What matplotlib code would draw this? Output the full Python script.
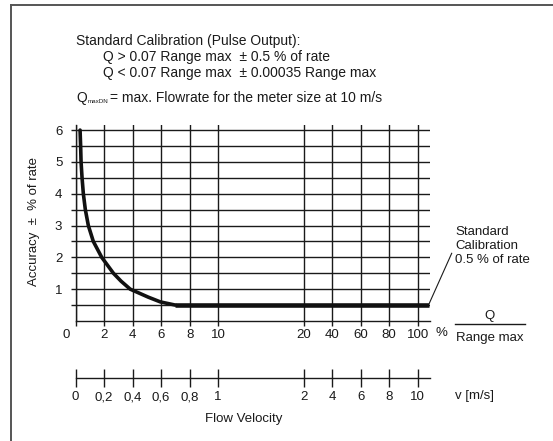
import numpy as np
import matplotlib
matplotlib.use("Agg")
import matplotlib.pyplot as plt
from matplotlib.lines import Line2D
from matplotlib.transforms import ScaledTranslation

plt.rcParams['font.family'] = ['Liberation Sans', 'DejaVu Sans']

# Flow in % of Range max (top axis) and the matching velocity (bottom axis)
q_ticks = [0, 2, 4, 6, 8, 10, 20, 40, 60, 80, 100]
q_labels = ['0', '2', '4', '6', '8', '10', '20', '40', '60', '80', '100']
v_ticks = [0, 0.2, 0.4, 0.6, 0.8, 1, 2, 4, 6, 8, 10]
v_labels = ['0', '0,2', '0,4', '0,6', '0,8', '1', '2', '4', '6', '8', '10']
acc_ticks = [1, 2, 3, 4, 5, 6]
acc_minor = [0.5, 1.5, 2.5, 3.5, 4.5, 5.5]

# accuracy curve (% of Range max, +/- % of rate)
curve_q = [0.32, 0.36, 0.39, 0.46, 0.55, 0.69, 0.9, 1.25, 1.84, 2.66, 3.2, 3.84, 5.1, 5.95, 7.0]
curve_acc = [6.0, 5.5, 5.0, 4.5, 4.0, 3.5, 3.0, 2.5, 2.0, 1.5, 1.25, 1.0, 0.75, 0.6, 0.5]
flat_q = [7.0, 108.0]
flat_acc = [0.5, 0.5]

Q_MAX_AXIS = 108.6
ACC_MAX_AXIS = 6.16


# broken axis: 0..10 in steps of 2, a gap, then 20..100 in steps of 20
def fwd(x):
    x = np.asarray(x, dtype=float)
    return np.where(x <= 10, x / 2, np.where(x <= 20, 5 + (x - 10) * 0.3, 8 + (x - 20) / 20))


def inv(p):
    p = np.asarray(p, dtype=float)
    return np.where(p <= 5, p * 2, np.where(p <= 8, 10 + (p - 5) / 0.3, 20 + (p - 8) * 20))


def fwd_v(v):
    return fwd(np.asarray(v, dtype=float) * 10)


def inv_v(p):
    return inv(p) / 10


W, H = 553, 441


def fx(px):
    return px / W


def fy(py):
    return 1 - py / H


fig = plt.figure(figsize=(W / 100, H / 100), dpi=100)
ink = '#1a1a1a'

left, right, top, bottom = 75.5, 430, 125, 321
ax = fig.add_axes([fx(left), fy(bottom), fx(right - left), (bottom - top) / H])
ax.set_xscale('function', functions=(fwd, inv))
ax.set_xlim(0, Q_MAX_AXIS)
ax.set_ylim(0, ACC_MAX_AXIS)
for s in ['top', 'right']:
    ax.spines[s].set_visible(False)
for s in ['left', 'bottom']:
    ax.spines[s].set_color(ink)
    ax.spines[s].set_linewidth(1.0)

ax.set_xticks(q_ticks)
ax.set_xticklabels(q_labels)
ax.set_xticks([], minor=True)
ax.set_yticks(acc_ticks)
ax.set_yticks(acc_minor, minor=True)
ax.tick_params(axis='both', which='both', direction='out', length=3.5, width=1.0,
               color=ink, labelsize=9.5, labelcolor=ink)
ax.tick_params(axis='x', pad=2)
ax.tick_params(axis='y', pad=6)
ax.grid(True, axis='both', which='both', color=ink, linewidth=1.0)
ax.set_axisbelow(True)

# the "0" sits left of the origin
lab0 = ax.get_xticklabels()[0]
lab0.set_transform(lab0.get_transform() + ScaledTranslation(-0.095, 0, fig.dpi_scale_trans))

ax.plot(curve_q, curve_acc, color='#111111', lw=2.6, solid_capstyle='round',
        solid_joinstyle='round', zorder=3)
ax.plot(flat_q, flat_acc, color='#111111', lw=3.3, solid_capstyle='butt', zorder=3)

# velocity axis
ax2 = fig.add_axes([fx(left), fy(378.3), fx(right - left), 0.0001])
ax2.set_xscale('function', functions=(fwd_v, inv_v))
ax2.set_xlim(0, Q_MAX_AXIS / 10)
ax2.set_yticks([])
for s in ['top', 'right', 'left']:
    ax2.spines[s].set_visible(False)
ax2.spines['bottom'].set_color(ink)
ax2.spines['bottom'].set_linewidth(1.0)
ax2.set_xticks(v_ticks)
ax2.set_xticklabels(v_labels)
ax2.set_xticks([], minor=True)
ax2.tick_params(axis='x', direction='inout', length=13, width=1.0, color=ink,
                labelsize=9.5, labelcolor=ink, pad=3)
ax2.patch.set_visible(False)

# texts
tk = dict(color=ink, va='center', ha='left')
fig.text(fx(76), fy(40.7), 'Standard Calibration (Pulse Output):', fontsize=10, **tk)
fig.text(fx(103), fy(57.3), 'Q > 0.07 Range max  \u00b1 0.5 % of rate', fontsize=10, **tk)
fig.text(fx(103), fy(72.7), 'Q < 0.07 Range max  \u00b1 0.00035 Range max', fontsize=10, **tk)
fig.text(fx(76.5), fy(98.3), 'Q', fontsize=10, **tk)
fig.text(fx(88), fy(101.5), 'maxDN', fontsize=4.5, **tk)
fig.text(fx(110), fy(98.3), '= max. Flowrate for the meter size at 10 m/s', fontsize=10, **tk)

fig.text(fx(33.5), fy(222), 'Accuracy  \u00b1  % of rate', rotation=90, fontsize=9.5,
         color=ink, ha='center', va='center')

fig.text(fx(441), fy(333.3), '%', fontsize=9.5, color=ink, ha='center', va='center')
fig.text(fx(490), fy(316), 'Q', fontsize=9.5, color=ink, ha='center', va='center')
fig.add_artist(Line2D([fx(455), fx(525)], [fy(324.3), fy(324.3)], color=ink, lw=1.0))
fig.text(fx(490), fy(338.3), 'Range max', fontsize=9.5, color=ink, ha='center', va='center')

fig.text(fx(455), fy(246), 'Standard\nCalibration\n0.5 % of rate', fontsize=9.5, color=ink,
         ha='left', va='center', linespacing=1.25)
fig.add_artist(Line2D([fx(451.7), fx(429.3)], [fy(253.3), fy(303.3)], color=ink, lw=0.8))

fig.text(fx(455), fy(396), 'v [m/s]', fontsize=9.5, color=ink, ha='left', va='center')
fig.text(fx(243.5), fy(419.3), 'Flow Velocity', fontsize=9.5, color=ink, ha='center', va='center')

# page frame
fig.add_artist(Line2D([fx(10.5), fx(10.5)], [0, fy(4.7)], color='#555555', lw=1.4))
fig.add_artist(Line2D([fx(10.5), 1], [fy(4.7), fy(4.7)], color='#555555', lw=1.4))

fig.savefig('out.png', dpi=100)
